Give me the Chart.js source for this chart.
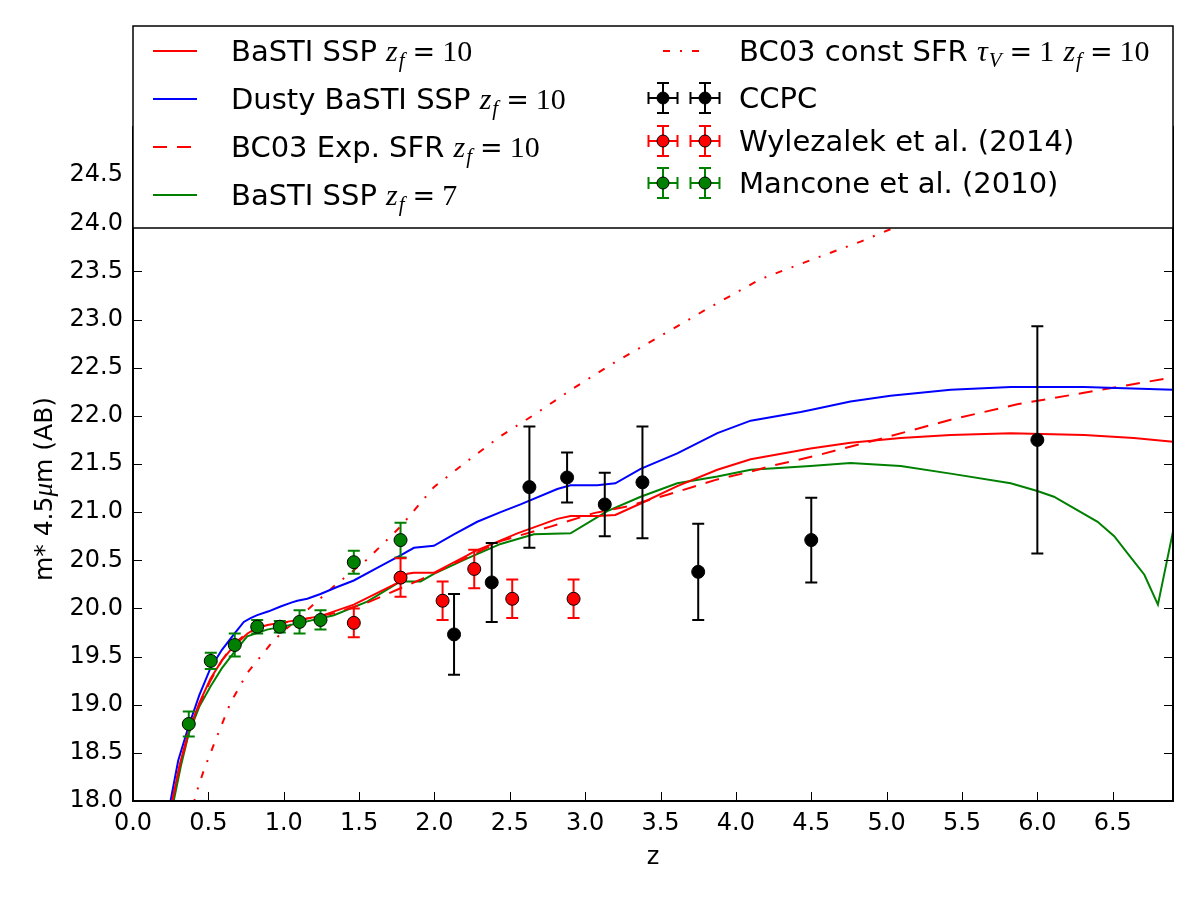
<!DOCTYPE html>
<html>
<head>
<meta charset="utf-8">
<script src="https://cdn.jsdelivr.net/npm/chart.js@4.4.1/dist/chart.umd.min.js"></script>
<style>
  body { margin: 0; background: #fff; }
  #wrap { width: 1200px; height: 897px; }
</style>
</head>
<body>
<div id="wrap"><canvas id="chart"></canvas></div>
<script>
// model tracks: redshift z and apparent magnitude m* at 4.5um
const bastiZ = [0.26, 0.31, 0.37, 0.44, 0.514, 0.59, 0.669, 0.76, 0.824, 0.9, 0.979, 1.244, 1.465, 1.775, 1.82, 1.863, 1.996, 2.218, 2.262, 2.55, 2.815, 2.903, 3.08, 3.2, 3.368, 3.611, 3.877, 4.098, 4.495, 4.76, 5.093, 5.425, 5.823, 6.31, 6.64, 6.9];
const bastiM = [18.0, 18.38, 18.73, 19.02, 19.27, 19.46, 19.61, 19.74, 19.80, 19.83, 19.85, 19.92, 20.04, 20.28, 20.36, 20.37, 20.37, 20.55, 20.59, 20.78, 20.93, 20.96, 20.96, 20.97, 21.09, 21.27, 21.44, 21.55, 21.66, 21.72, 21.77, 21.80, 21.82, 21.80, 21.77, 21.73];

const dustyZ = [0.249, 0.30, 0.37, 0.44, 0.514, 0.59, 0.669, 0.735, 0.78, 0.824, 0.9, 0.979, 1.05, 1.09, 1.156, 1.244, 1.35, 1.465, 1.62, 1.775, 1.864, 1.996, 2.129, 2.284, 2.439, 2.571, 2.815, 2.903, 3.08, 3.2, 3.368, 3.611, 3.877, 4.098, 4.43, 4.495, 4.76, 5.026, 5.425, 5.823, 6.31, 6.9];
const dustyM = [18.0, 18.42, 18.78, 19.1, 19.38, 19.57, 19.73, 19.86, 19.9, 19.93, 19.97, 20.02, 20.06, 20.08, 20.1, 20.15, 20.22, 20.29, 20.42, 20.55, 20.63, 20.65, 20.77, 20.9, 21.0, 21.08, 21.24, 21.28, 21.28, 21.3, 21.45, 21.61, 21.82, 21.95, 22.04, 22.06, 22.15, 22.21, 22.27, 22.30, 22.30, 22.27];

const expZ = [0.26, 0.31, 0.37, 0.44, 0.514, 0.59, 0.669, 0.76, 0.846, 1.111, 1.333, 1.554, 1.775, 1.908, 2.218, 2.439, 2.77, 3.058, 3.28, 3.545, 3.877, 4.098, 4.209, 4.54, 4.98, 5.425, 5.867, 6.31, 6.9];
const expM = [18.0, 18.36, 18.71, 19.0, 19.25, 19.46, 19.63, 19.75, 19.81, 19.88, 19.95, 20.06, 20.21, 20.30, 20.53, 20.70, 20.85, 20.99, 21.06, 21.18, 21.34, 21.42, 21.47, 21.59, 21.77, 21.96, 22.12, 22.24, 22.40];

const basti7Z = [0.27, 0.32, 0.37, 0.44, 0.514, 0.59, 0.669, 0.758, 0.89, 1.111, 1.333, 1.554, 1.775, 1.908, 1.996, 2.218, 2.439, 2.66, 2.903, 3.147, 3.368, 3.611, 3.877, 4.098, 4.495, 4.76, 5.093, 5.425, 5.823, 6.0, 6.11, 6.4, 6.51, 6.6, 6.71, 6.8, 6.9];
const basti7M = [18.0, 18.38, 18.70, 18.98, 19.19, 19.38, 19.54, 19.71, 19.78, 19.85, 19.93, 20.07, 20.28, 20.28, 20.36, 20.52, 20.67, 20.77, 20.78, 21.01, 21.16, 21.30, 21.37, 21.44, 21.48, 21.51, 21.48, 21.40, 21.30, 21.22, 21.16, 20.90, 20.75, 20.57, 20.35, 20.04, 20.80];

const constZ = [0.40, 0.415, 0.47, 0.547, 0.647, 0.758, 0.934, 1.111, 1.333, 1.554, 1.775, 1.996, 2.218, 2.439, 2.66, 2.925, 3.2, 3.5, 3.83, 4.164, 4.5, 4.827, 5.2, 5.6];
const constM = [17.95, 18.06, 18.32, 18.63, 19.02, 19.33, 19.67, 19.92, 20.23, 20.51, 20.85, 21.26, 21.53, 21.79, 22.01, 22.29, 22.56, 22.83, 23.13, 23.42, 23.62, 23.81, 24.05, 24.3];

// observed clusters
const ccpcZ = [2.13, 2.38, 2.63, 2.88, 3.13, 3.38, 3.75, 4.5, 6.0];
const ccpcM = [19.73, 20.27, 21.26, 21.36, 21.08, 21.31, 20.38, 20.71, 21.75];
const ccpcErr = [0.42, 0.41, 0.63, 0.26, 0.33, 0.58, 0.50, 0.44, 1.18];

const wylZ = [1.465, 1.775, 2.054, 2.264, 2.516, 2.923];
const wylM = [19.85, 20.32, 20.08, 20.41, 20.10, 20.10];
const wylErr = [0.15, 0.20, 0.20, 0.20, 0.20, 0.20];

const manZ = [0.37, 0.516, 0.675, 0.824, 0.974, 1.105, 1.244, 1.465, 1.775];
const manM = [18.80, 19.455, 19.62, 19.81, 19.81, 19.86, 19.88, 20.48, 20.71];
const manErr = [0.13, 0.085, 0.12, 0.07, 0.06, 0.12, 0.10, 0.12, 0.18];

const xTicks = [0, 0.5, 1, 1.5, 2, 2.5, 3, 3.5, 4, 4.5, 5, 5.5, 6, 6.5];
const yTicks = [18, 18.5, 19, 19.5, 20, 20.5, 21, 21.5, 22, 22.5, 23, 23.5, 24, 24.5];
const yTitle = 'm* 4.5$\\mu$m (AB)';

const legendLines = [
  { label: 'BaSTI SSP $z_f=10$', color: '#ff0000', dash: [] },
  { label: 'Dusty BaSTI SSP $z_f=10$', color: '#0000ff', dash: [] },
  { label: 'BC03 Exp. SFR $z_f=10$', color: '#ff0000', dash: [14, 10] },
  { label: 'BaSTI SSP $z_f=7$', color: '#008000', dash: [] }
];
const legendRight = [
  { label: 'BC03 const SFR $\\tau_V=1$ $z_f=10$', line: true, color: '#ff0000', dash: [7, 10, 2, 10] },
  { label: 'CCPC', color: '#000000', bar: '#000000' },
  { label: 'Wylezalek et al. (2014)', color: '#ff0000', bar: '#ff0000' },
  { label: 'Mancone et al. (2010)', color: '#008000', bar: '#008000' }
];

const pts = (xs, ys) => xs.map((x, i) => ({ x, y: ys[i] }));
const MATH = '"Liberation Serif", serif';

function lineSet(label, xs, ys, color, dash) {
  return { label, data: pts(xs, ys), showLine: true, borderColor: color, borderWidth: 2,
    borderDash: dash, pointRadius: 0, tension: 0, fill: false, order: 1 };
}
function pointSet(label, xs, ys, errs, color) {
  return { label, data: pts(xs, ys), errors: errs, barColor: color, showLine: false,
    pointRadius: 6.5, pointHoverRadius: 6.5, pointBackgroundColor: color,
    pointBorderColor: '#000', pointBorderWidth: 1, order: 0 };
}

// text with $...$ parts drawn in a math style (italic letters, subscripts)
function drawRich(ctx, str, x, y, size, msize) {
  const parts = str.split('$');
  parts.forEach((p, i) => {
    if (i % 2 === 0) {
      ctx.font = size + 'px "DejaVu Sans"';
      ctx.fillText(p, x, y);
      x += ctx.measureText(p).width;
      return;
    }
    for (let k = 0; k < p.length; k++) {
      let ch = p[k];
      if (p.startsWith('\\tau', k)) { ch = '\u03c4'; k += 3; }
      else if (p.startsWith('\\mu', k)) { ch = '\u03bc'; k += 2; }
      if (ch === '_') {
        k++;
        ctx.font = 'italic ' + Math.round(msize * 0.7) + 'px ' + MATH;
        ctx.fillText(p[k], x + 1, y + 6);
        x += ctx.measureText(p[k]).width + 2;
        continue;
      }
      if (ch === '=') {
        ctx.font = Math.round(msize * 0.9) + 'px "DejaVu Serif"';
        x += 7;
        ctx.fillText('=', x, y);
        x += ctx.measureText('=').width + 7;
        continue;
      }
      const it = /[a-zA-Z\u03c4\u03bc]/.test(ch);
      ctx.font = (it ? 'italic ' : '') + msize + 'px ' + MATH;
      ctx.fillText(ch, x, y);
      x += ctx.measureText(ch).width;
    }
  });
  return x;
}

function errMarker(ctx, x, y, color, bar) {
  ctx.strokeStyle = bar; ctx.lineWidth = 2; ctx.setLineDash([]);
  ctx.beginPath();
  ctx.moveTo(x - 14.5, y); ctx.lineTo(x + 14.5, y);
  ctx.moveTo(x - 14.5, y - 6); ctx.lineTo(x - 14.5, y + 6);
  ctx.moveTo(x + 14.5, y - 6); ctx.lineTo(x + 14.5, y + 6);
  ctx.moveTo(x, y - 15); ctx.lineTo(x, y + 15);
  ctx.moveTo(x - 6, y - 15); ctx.lineTo(x + 6, y - 15);
  ctx.moveTo(x - 6, y + 15); ctx.lineTo(x + 6, y + 15);
  ctx.stroke();
  ctx.beginPath(); ctx.arc(x, y, 6, 0, Math.PI * 2);
  ctx.fillStyle = color; ctx.fill();
  ctx.lineWidth = 1; ctx.strokeStyle = '#000'; ctx.stroke();
}

const errorBars = {
  id: 'errorBars',
  beforeDatasetDraw(chart, args) {
    const ds = chart.data.datasets[args.index];
    if (!ds.errors) return;
    const { ctx, chartArea: a } = chart;
    const ys = chart.scales.y;
    ctx.save();
    ctx.beginPath(); ctx.rect(a.left, a.top, a.right - a.left, a.bottom - a.top); ctx.clip();
    ctx.strokeStyle = ds.barColor; ctx.lineWidth = 2;
    args.meta.data.forEach((pt, i) => {
      const v = ds.data[i].y, e = ds.errors[i];
      const y1 = ys.getPixelForValue(v + e), y2 = ys.getPixelForValue(v - e);
      ctx.beginPath();
      ctx.moveTo(pt.x, y1); ctx.lineTo(pt.x, y2);
      ctx.moveTo(pt.x - 6, y1); ctx.lineTo(pt.x + 6, y1);
      ctx.moveTo(pt.x - 6, y2); ctx.lineTo(pt.x + 6, y2);
      ctx.stroke();
    });
    ctx.restore();
  }
};

const frame = {
  id: 'frame',
  afterDatasetsDraw(chart) {
    const { ctx, chartArea: a, scales: { x, y } } = chart;
    ctx.save();
    ctx.strokeStyle = '#000'; ctx.lineWidth = 1;
    ctx.beginPath();
    x.ticks.forEach(t => {
      const px = Math.round(x.getPixelForValue(t.value)) + 0.5;
      ctx.moveTo(px, a.bottom); ctx.lineTo(px, a.bottom - 9);
      ctx.moveTo(px, a.top); ctx.lineTo(px, a.top + 9);
    });
    y.ticks.forEach(t => {
      const py = Math.round(y.getPixelForValue(t.value)) + 0.5;
      ctx.moveTo(a.left, py); ctx.lineTo(a.left + 9, py);
      ctx.moveTo(a.right, py); ctx.lineTo(a.right - 9, py);
    });
    ctx.stroke();
    ctx.lineWidth = 2;
    ctx.strokeRect(a.left, a.top, a.right - a.left, a.bottom - a.top);

    // y axis title, rotated
    ctx.save();
    ctx.translate(45, 489);
    ctx.rotate(-Math.PI / 2);
    ctx.fillStyle = '#000';
    ctx.textBaseline = 'middle';
    ctx.font = '25px "DejaVu Sans"';
    const w = (() => { ctx.globalAlpha = 0; const e = drawRich(ctx, yTitle, 0, 0, 25, 27); ctx.globalAlpha = 1; return e; })();
    drawRich(ctx, yTitle, -w / 2, 0, 25, 27);
    ctx.restore();
    ctx.restore();
  }
};

const legendBox = {
  id: 'legendBox',
  afterDraw(chart) {
    const { ctx, chartArea: a } = chart;
    const top = 26, bottom = 228;
    ctx.save();
    ctx.fillStyle = '#fff';
    ctx.fillRect(a.left, top, a.right - a.left, bottom - top);
    ctx.strokeStyle = '#000'; ctx.lineWidth = 1.5;
    ctx.strokeRect(a.left, top, a.right - a.left, bottom - top);
    ctx.textBaseline = 'alphabetic'; ctx.textAlign = 'left';
    const rowsL = [51, 99, 147, 195];
    legendLines.forEach((it, i) => {
      const y = rowsL[i];
      ctx.strokeStyle = it.color; ctx.lineWidth = 2; ctx.setLineDash(it.dash);
      ctx.beginPath(); ctx.moveTo(153, y); ctx.lineTo(197, y); ctx.stroke();
      ctx.setLineDash([]);
      ctx.fillStyle = '#000';
      drawRich(ctx, it.label, 231, y + 10, 29, 30);
    });
    const rowsR = [51, 98, 141, 183];
    legendRight.forEach((it, i) => {
      const y = rowsR[i];
      if (it.line) {
        ctx.strokeStyle = it.color; ctx.lineWidth = 2; ctx.setLineDash(it.dash);
        ctx.beginPath(); ctx.moveTo(663, y); ctx.lineTo(699, y); ctx.stroke();
        ctx.setLineDash([]);
      } else {
        errMarker(ctx, 663, y, it.color, it.bar);
        errMarker(ctx, 705, y, it.color, it.bar);
      }
      ctx.fillStyle = '#000';
      drawRich(ctx, it.label, 739, y + 10, 29, 30);
    });
    ctx.restore();
  }
};

Chart.defaults.font.family = '"DejaVu Sans"';
Chart.defaults.color = '#000';

new Chart(document.getElementById('chart'), {
  type: 'scatter',
  data: {
    datasets: [
      pointSet('CCPC', ccpcZ, ccpcM, ccpcErr, '#000000'),
      pointSet('Wylezalek et al. (2014)', wylZ, wylM, wylErr, '#ff0000'),
      pointSet('Mancone et al. (2010)', manZ, manM, manErr, '#008000'),
      lineSet('BaSTI SSP zf=10', bastiZ, bastiM, '#ff0000', []),
      lineSet('Dusty BaSTI SSP zf=10', dustyZ, dustyM, '#0000ff', []),
      lineSet('BC03 Exp. SFR zf=10', expZ, expM, '#ff0000', [14, 10]),
      lineSet('BaSTI SSP zf=7', basti7Z, basti7M, '#008000', []),
      lineSet('BC03 const SFR tauV=1 zf=10', constZ, constM, '#ff0000', [7, 10, 2, 10])
    ]
  },
  options: {
    responsive: true, maintainAspectRatio: false, animation: false, devicePixelRatio: 1,
    layout: { padding: { top: 127, right: 27, left: 0, bottom: 0 } },
    plugins: { legend: { display: false }, tooltip: { enabled: false } },
    scales: {
      x: {
        type: 'linear', min: 0, max: 6.9,
        afterBuildTicks: s => { s.ticks = xTicks.map(v => ({ value: v })); },
        afterFit: s => { s.height = 96; },
        grid: { display: false, drawTicks: false }, border: { display: false },
        ticks: { padding: 8, font: { size: 24 }, maxRotation: 0, callback: v => v.toFixed(1) },
        title: { display: true, text: 'z', font: { size: 24 }, padding: { top: 0, bottom: 25 } }
      },
      y: {
        type: 'linear', min: 18, max: 25,
        afterBuildTicks: s => { s.ticks = yTicks.map(v => ({ value: v })); },
        afterFit: s => { s.width = 133; },
        grid: { display: false, drawTicks: false }, border: { display: false },
        ticks: { padding: 10, font: { size: 24 }, callback: v => v.toFixed(1) }
      }
    }
  },
  plugins: [errorBars, frame, legendBox]
});
</script>
</body>
</html>
